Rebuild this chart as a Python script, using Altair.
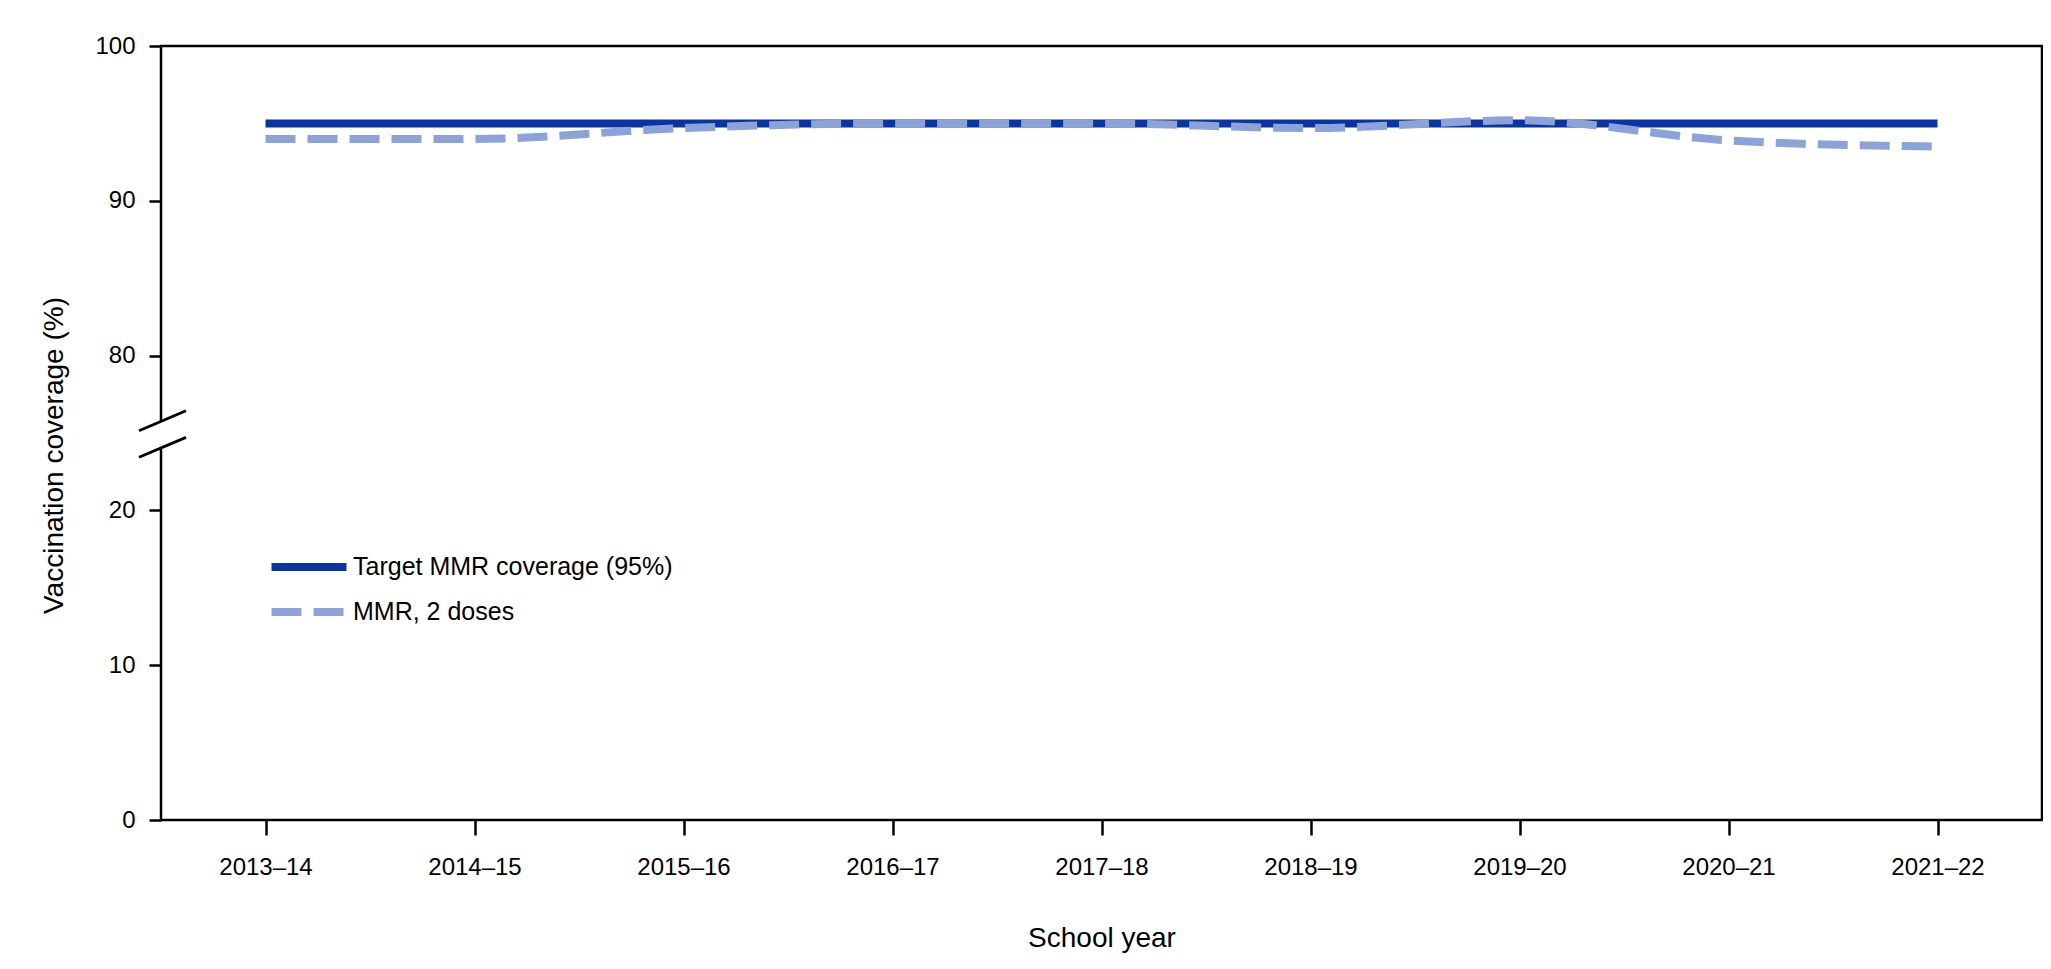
import altair as alt
import pandas as pd

# ---- data ----
years = ["2013–14", "2014–15", "2015–16", "2016–17", "2017–18",
         "2018–19", "2019–20", "2020–21", "2021–22"]
target = [95, 95, 95, 95, 95, 95, 95, 95, 95]
mmr2 = [94.0, 94.0, 94.7, 95.0, 95.0, 94.7, 95.2, 93.9, 93.5]
series = ["Target MMR coverage (95%)", "MMR, 2 doses"]
y_ticks = [0, 10, 20, 80, 90, 100]
y_domain = [0, 20, 80, 100]          # broken axis: 20..80 squeezed
axis_gap = [44.2, 54.5]               # hidden stretch of the y axis line
slashes = [(40.6, 48.3), (50.9, 58.6)]  # break marks (value at left end, right end)

W, H = 1881, 774
FONT = "Liberation Sans"
DARK = "#0A34A3"
LIGHT = "#8CA3D9"

rows = []
for y, v in zip(years, target):
    rows.append({"year": y, "value": v, "series": series[0]})
for y, v in zip(years, mmr2):
    rows.append({"year": y, "value": v, "series": series[1]})
df = pd.DataFrame(rows)

yscale = alt.Scale(domain=y_domain, range=[H, H * 3 / 5, H * 2 / 5, 0], nice=False, zero=False)
xscale = alt.Scale(type="point", padding=0.5, domain=years)
color = alt.Color("series:N", scale=alt.Scale(domain=series, range=[DARK, LIGHT]),
                  legend=alt.Legend(orient="none", legendX=129, legendY=502, title=None,
                                    symbolType="M-2.5,0H2.5", symbolSize=900, symbolStrokeWidth=8,
                                    labelFontSize=25, labelFont=FONT, labelColor="black",
                                    labelOffset=25, rowPadding=10, labelLimit=600))
dash = alt.StrokeDash("series:N", scale=alt.Scale(domain=series, range=[[1, 0], [30, 12]]),
                      legend=None)

x_enc = alt.X("year:O", scale=xscale, sort=years,
              axis=alt.Axis(title="School year", labelAngle=0, domain=False,
                            tickSize=15, tickWidth=2.5, tickColor="black",
                            labelFontSize=24, labelFont=FONT, labelColor="black", labelPadding=20,
                            titleFontSize=28, titleFont=FONT, titleFontWeight="normal",
                            titleColor="black", titlePadding=45))
y_enc = alt.Y("value:Q", scale=yscale,
              axis=alt.Axis(title="Vaccination coverage (%)", values=y_ticks, domain=False,
                            grid=False, tickSize=12, tickWidth=2.5, tickColor="black",
                            labelFontSize=24, labelFont=FONT, labelColor="black", labelPadding=14,
                            titleFontSize=28, titleFont=FONT, titleFontWeight="normal",
                            titleColor="black", titlePadding=26, titleY=409))

base = alt.Chart(df)
line_target = base.transform_filter(alt.datum.series == series[0]).mark_line(
    strokeWidth=8, strokeCap="butt").encode(x=x_enc, y=y_enc, color=color, strokeDash=dash)
line_mmr = base.transform_filter(alt.datum.series == series[1]).mark_line(
    strokeWidth=8, strokeCap="butt", interpolate="monotone").encode(
    x=x_enc, y=y_enc, color=color, strokeDash=dash)

# mask hiding the axis line inside the break
gap_df = pd.DataFrame({"lo": [axis_gap[0]], "hi": [axis_gap[1]]})
mask = alt.Chart(gap_df).mark_rect(color="white").encode(
    x=alt.value(-8), x2=alt.value(8),
    y=alt.Y("lo:Q", scale=yscale), y2="hi:Q")

sl_df = pd.DataFrame({"a": [s[0] for s in slashes], "b": [s[1] for s in slashes]})
breaks = alt.Chart(sl_df).mark_rule(color="black", strokeWidth=2.8).encode(
    x=alt.value(-22), x2=alt.value(25),
    y=alt.Y("a:Q", scale=yscale), y2="b:Q")

chart = alt.layer(line_target, line_mmr, mask, breaks).properties(
    width=W, height=H,
    autosize=alt.AutoSizeParams(type="none"),
    padding={"left": 153, "top": 38, "right": 1, "bottom": 135},
    background="white",
).configure_view(stroke="black", strokeWidth=2.5)

chart.save("out.html", embed_options={"renderer": "svg", "actions": False})
